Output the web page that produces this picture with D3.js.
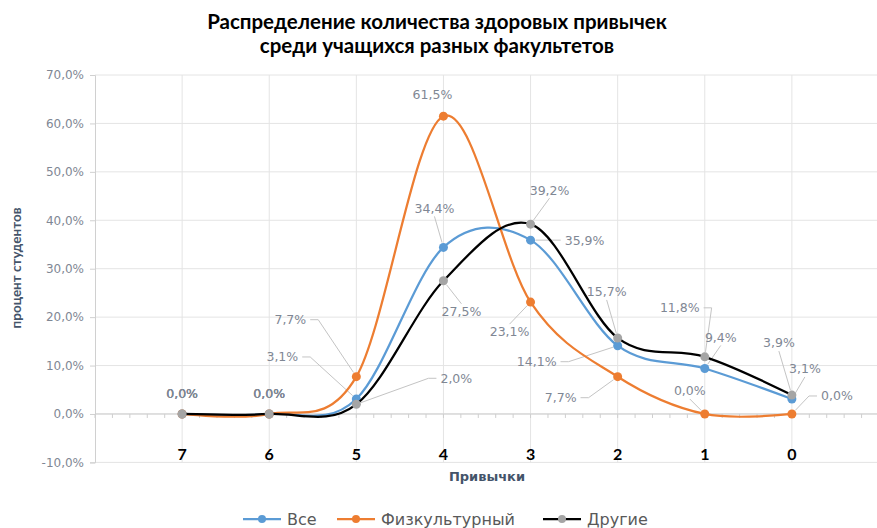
<!DOCTYPE html>
<html>
<head>
<meta charset="utf-8">
<script src="https://cdn.jsdelivr.net/npm/d3@7/dist/d3.min.js"></script>
<style>
  body { margin: 0; background: #fff; }
</style>
</head>
<body>
<div class="container"></div>
<script>
// ===== DATA =====
var categories = ["7", "6", "5", "4", "3", "2", "1", "0"];
var seriesNames = ["Все", "Физкультурный", "Другие"];
var valuesAll = [0.0, 0.0, 3.1, 34.4, 35.9, 14.1, 9.4, 3.1];
var valuesSport = [0.0, 0.0, 7.7, 61.5, 23.1, 7.7, 0.0, 0.0];
var valuesOther = [0.0, 0.0, 2.0, 27.5, 39.2, 15.7, 11.8, 3.9];
var yTicks = [-10, 0, 10, 20, 30, 40, 50, 60, 70];

var titleLines = ["Распределение количества здоровых привычек", "среди учащихся разных факультетов"];

// label placement (pixel offsets from the point), not data
var labelPos = [
  [[0,-20,0],[0,-20,0],[-74,-42,1],[-9,-39,1],[54,0,1],[-81,16,1],[16,-31,1],[13,-30,1]],
  [[0,-20,0],[0,-20,0],[-66,-57,1],[-11,-22,0],[-21,30,1],[-57,21,1],[-15,-23,1],[45,-18,1]],
  [[0,-20,0],[0,-20,0],[100,-26,1],[18,31,1],[19,-34,1],[-11,-46,1],[-25,-49,1],[-13,-52,1]]
];
var colors = ["#5B9BD5", "#ED7D31", "#000000"];
var markerColors = ["#5B9BD5", "#ED7D31", "#A5A5A5"];

buildChart();

function buildChart() {
  var W = 877, H = 528;
  var left = 95, right = 879, top = 75, bottom = 462.4;

  var svg = d3.select('.container')
    .append('svg')
    .attr('width', W)
    .attr('height', H);

  var x = d3.scalePoint()
    .domain(categories)
    .range([left, right])
    .padding(1);

  var y = d3.scaleLinear()
    .domain([-10, 70])
    .range([bottom, top]);

  var fmt = function(v) { return v.toFixed(1).replace('.', ',') + '%'; };

  /* ===== GRID ===== */
  svg.append('g')
    .selectAll('line')
    .data(yTicks)
    .enter()
    .append('line')
    .attr('x1', left).attr('x2', W)
    .attr('y1', function(d) { return y(d); })
    .attr('y2', function(d) { return y(d); })
    .attr('stroke', '#e4e4e4')
    .attr('stroke-width', 1);

  svg.append('g')
    .selectAll('line')
    .data(categories)
    .enter()
    .append('line')
    .attr('x1', function(d) { return x(d); })
    .attr('x2', function(d) { return x(d); })
    .attr('y1', top).attr('y2', bottom)
    .attr('stroke', '#e4e4e4')
    .attr('stroke-width', 1);

  /* ===== Y AXIS ===== */
  var yAxis = d3.axisLeft(y)
    .tickValues(yTicks)
    .tickSize(5)
    .tickPadding(6)
    .tickFormat(fmt);

  var gy = svg.append('g')
    .attr('transform', 'translate(' + left + ',0)')
    .call(yAxis);
  gy.select('.domain').attr('stroke', '#d0d0d0');
  gy.selectAll('.tick line').attr('stroke', '#d0d0d0');
  gy.selectAll('.tick text')
    .style('font', '12px "DejaVu Sans"')
    .attr('fill', '#7f8794');

  /* ===== X AXIS (at 0%) ===== */
  var step = x.step();
  var minor = d3.range(left, W, step / 5);
  svg.append('line')
    .attr('x1', left).attr('x2', W)
    .attr('y1', y(0)).attr('y2', y(0))
    .attr('stroke', '#cfcfcf');
  svg.append('g')
    .selectAll('line')
    .data(minor)
    .enter()
    .append('line')
    .attr('x1', function(d) { return d; })
    .attr('x2', function(d) { return d; })
    .attr('y1', y(0)).attr('y2', y(0) + 4)
    .attr('stroke', '#cfcfcf');

  svg.append('g')
    .selectAll('text')
    .data(categories)
    .enter()
    .append('text')
    .attr('x', function(d) { return x(d); })
    .attr('y', bottom - 2)
    .attr('text-anchor', 'middle')
    .style('font', 'bold 16px Lato')
    .attr('fill', '#000')
    .text(function(d) { return d; });

  /* ===== TITLES ===== */
  svg.append('g')
    .selectAll('text')
    .data(titleLines)
    .enter()
    .append('text')
    .attr('x', 437)
    .attr('y', function(d, i) { return 29 + i * 24; })
    .attr('text-anchor', 'middle')
    .style('font', 'bold 20.5px Lato')
    .attr('fill', '#000')
    .text(function(d) { return d; });

  svg.append('text')
    .attr('x', (left + right) / 2)
    .attr('y', 481)
    .attr('text-anchor', 'middle')
    .style('font', 'bold 13px "DejaVu Sans"')
    .attr('fill', '#44546A')
    .text('Привычки');

  svg.append('text')
    .attr('transform', 'translate(21,' + 268 + ') rotate(-90)')
    .attr('text-anchor', 'middle')
    .style('font', 'bold 13.5px Lato')
    .attr('fill', '#44546A')
    .text('процент студентов');

  /* ===== SERIES ===== */
  var allSeries = [valuesAll, valuesSport, valuesOther];

  var line = d3.line()
    .x(function(d, i) { return x(categories[i]); })
    .y(function(d) { return y(d); })
    .curve(d3.curveCatmullRom.alpha(0));

  var leaders = svg.append('g');
  var labels = svg.append('g');

  allSeries.forEach(function(vals, s) {
    svg.append('path')
      .datum(vals)
      .attr('d', line)
      .attr('fill', 'none')
      .attr('stroke', colors[s])
      .attr('stroke-width', 2.25);

    svg.append('g')
      .selectAll('circle')
      .data(vals)
      .enter()
      .append('circle')
      .attr('cx', function(d, i) { return x(categories[i]); })
      .attr('cy', function(d) { return y(d); })
      .attr('r', 4.5)
      .attr('fill', markerColors[s]);
  });

  /* --- data labels --- */
  allSeries.forEach(function(vals, s) {
    vals.forEach(function(v, i) {
      var px = x(categories[i]), py = y(v);
      var p = labelPos[s][i];
      var lx = px + p[0], ly = py + p[1];
      var t = labels.append('text')
        .attr('x', lx)
        .attr('y', ly)
        .attr('dy', '0.35em')
        .attr('text-anchor', 'middle')
        .style('font', '12.5px "DejaVu Sans"')
        .attr('fill', '#7f8794')
        .text(fmt(v));
      if (!p[2]) return;
      var w = t.node().getComputedTextLength();
      var pts;
      if (Math.abs(p[0]) > w / 2 + 4) {
        var sgn = p[0] < 0 ? 1 : -1;
        var ax = lx + sgn * (w / 2 + 4);
        pts = [[ax, ly], [ax + sgn * 8, ly], [px, py]];
      } else {
        var ay = p[1] < 0 ? ly + 8 : ly - 8;
        pts = [[lx, ay], [px, py]];
      }
      // stop short of the marker
      var a = pts[pts.length - 2], b = pts[pts.length - 1];
      var dx = b[0] - a[0], dy = b[1] - a[1], len = Math.sqrt(dx * dx + dy * dy);
      pts[pts.length - 1] = [b[0] - dx / len * 5, b[1] - dy / len * 5];
      leaders.append('path')
        .attr('d', d3.line()(pts))
        .attr('fill', 'none')
        .attr('stroke', '#c4c4c4')
        .attr('stroke-width', 1);
    });
  });

  /* ===== LEGEND ===== */
  var legendX = [243, 337, 543];
  var leg = svg.append('g')
    .selectAll('g')
    .data(seriesNames)
    .enter()
    .append('g')
    .attr('transform', function(d, i) { return 'translate(' + legendX[i] + ',519)'; });

  leg.append('line')
    .attr('x1', 0).attr('x2', 38)
    .attr('stroke', function(d, i) { return colors[i]; })
    .attr('stroke-width', 2.25);
  leg.append('circle')
    .attr('cx', 19)
    .attr('r', 4)
    .attr('fill', function(d, i) { return markerColors[i]; });
  leg.append('text')
    .attr('x', 44)
    .attr('dy', '0.35em')
    .style('font', '16px "DejaVu Sans"')
    .attr('fill', '#595959')
    .text(function(d) { return d; });
}
</script>
</body>
</html>
